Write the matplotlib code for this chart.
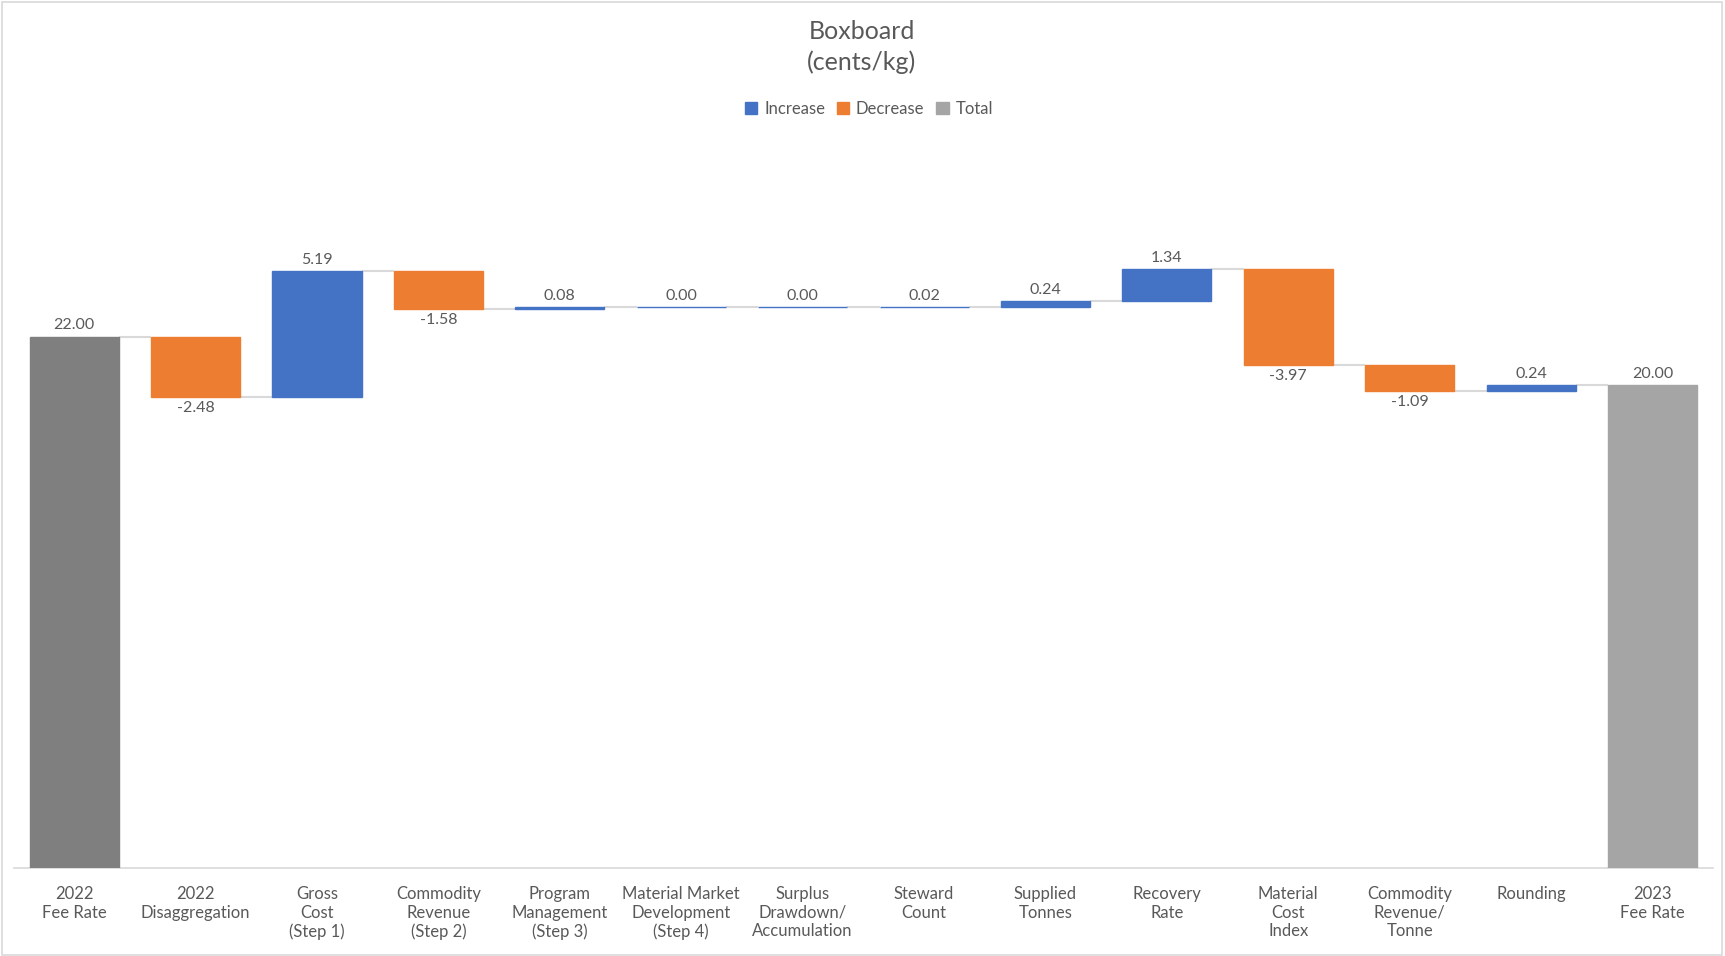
import matplotlib
matplotlib.use("Agg")
import matplotlib.pyplot as plt
from matplotlib.patches import Patch, Rectangle

# chart data
categories = [
    "2022\nFee Rate", "2022\nDisaggregation", "Gross\nCost\n(Step 1)",
    "Commodity\nRevenue\n(Step 2)", "Program\nManagement\n(Step 3)",
    "Material Market\nDevelopment\n(Step 4)", "Surplus\nDrawdown/\nAccumulation",
    "Steward\nCount", "Supplied\nTonnes", "Recovery\nRate",
    "Material\nCost\nIndex", "Commodity\nRevenue/\nTonne", "Rounding",
    "2023\nFee Rate",
]
values = [22.00, -2.48, 5.19, -1.58, 0.08, 0.00, 0.00, 0.02, 0.24, 1.34,
          -3.97, -1.09, 0.24, 20.00]
is_total = [True] + [False] * 12 + [True]

BLUE = "#4472C4"
ORANGE = "#ED7D31"
GREY_DARK = "#7F7F7F"
GREY = "#A5A5A5"
TEXT = "#595959"
LINE = "#D9D9D9"

plt.rcParams["font.family"] = ["Lato", "DejaVu Sans"]

fig = plt.figure(figsize=(17.25, 9.56), dpi=100)
ax = fig.add_axes([0.00784, 0.0921, 0.98532, 0.7579])

width = 0.734
bottoms, heights, colors, tops = [], [], [], []
running = 0.0
for i, (v, tot) in enumerate(zip(values, is_total)):
    if tot:
        bottoms.append(0)
        heights.append(v)
        colors.append(GREY_DARK if i == 0 else GREY)
        running = v
    else:
        bottoms.append(running)
        heights.append(v)
        colors.append(BLUE if v >= 0 else ORANGE)
        running = running + v
    tops.append(running)

x = list(range(len(categories)))
ax.bar(x, heights, bottom=bottoms, width=width, color=colors,
       edgecolor=colors, linewidth=1.0, zorder=3)

# connector lines between bars
for i in range(len(x) - 1):
    ax.plot([i + width / 2, i + 1 - width / 2], [tops[i], tops[i]],
            color=LINE, lw=1.5, zorder=2, solid_capstyle="butt")

# data labels
for i, v in enumerate(values):
    lab = f"{v:.2f}"
    y = bottoms[i] + heights[i]
    if v >= 0:
        ax.annotate(lab, (i, y), xytext=(0, 3), textcoords="offset points",
                    ha="center", va="bottom", fontsize=11.5, color=TEXT)
    else:
        ax.annotate(lab, (i, y), xytext=(0, -3), textcoords="offset points",
                    ha="center", va="top", fontsize=11.5, color=TEXT)

ax.set_xlim(-0.5, len(x) - 0.5)
ax.set_ylim(0, 30)
ax.set_yticks([])
ax.set_xticks(x)
ax.set_xticklabels(categories, fontsize=12, color=TEXT, linespacing=1.2,
                   va="top")
ax.tick_params(axis="x", length=0, pad=13)
for side in ["top", "left", "right"]:
    ax.spines[side].set_visible(False)
ax.spines["bottom"].set_color(LINE)
ax.spines["bottom"].set_linewidth(1.2)
ax.patch.set_alpha(0)

fig.text(0.4997, 0.951, "Boxboard\n(cents/kg)", ha="center", va="center",
         fontsize=18, color=TEXT, linespacing=1.4)

handles = [Patch(color=BLUE, label="Increase"),
           Patch(color=ORANGE, label="Decrease"),
           Patch(color=GREY, label="Total")]
leg = fig.legend(handles=handles, loc="center", bbox_to_anchor=(0.5037, 0.886),
                 ncol=3, frameon=False, fontsize=12, handlelength=0.75,
                 handleheight=0.75, handletextpad=0.4, columnspacing=0.7)
for t in leg.get_texts():
    t.set_color(TEXT)

fig.patches.append(Rectangle((0.001, 0.001), 0.997, 0.997, transform=fig.transFigure,
                             fill=False, edgecolor=LINE, linewidth=1.2))

fig.savefig("out.png", dpi=100)
